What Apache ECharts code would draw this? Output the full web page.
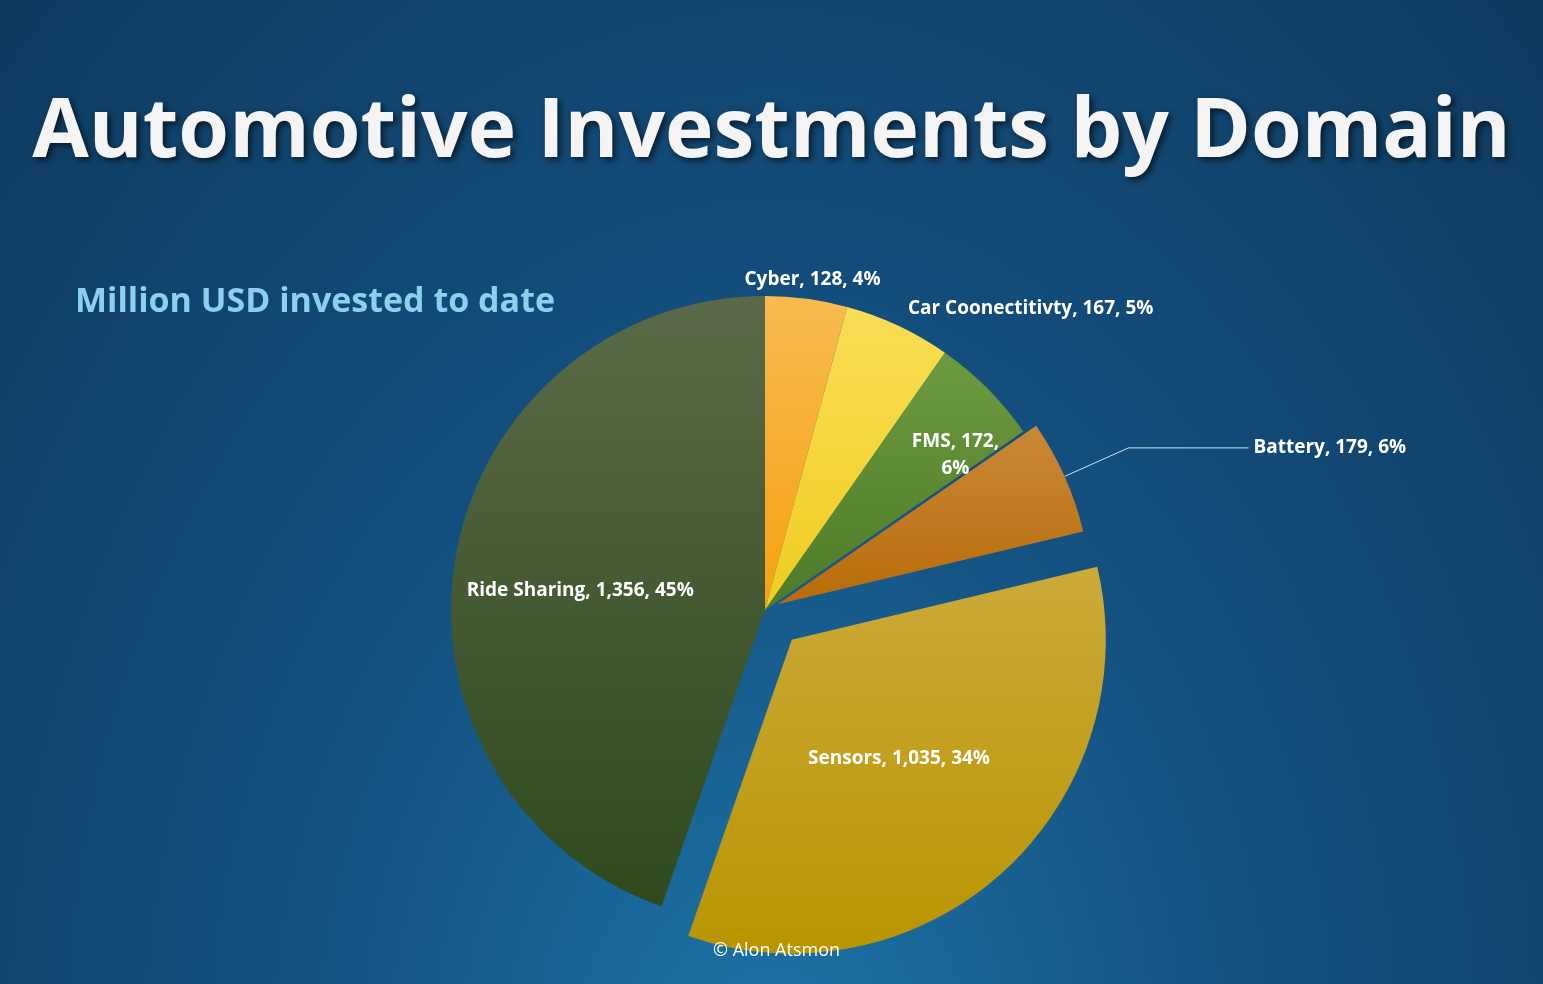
<!DOCTYPE html>
<html><head><meta charset="utf-8">
<script src="https://cdn.jsdelivr.net/npm/echarts@6/dist/echarts.min.js"></script>
<style>html,body{margin:0;padding:0;width:1543px;height:984px;overflow:hidden}
#c{width:1543px;height:984px;background:radial-gradient(ellipse at 50% 110%,#1d74a8 0%,#145080 45%,#0f3a5e 100%)}</style>
</head><body><div id="c"></div>
<script>
const categories=['Cyber','Car Coonectitivty','FMS','Battery','Sensors','Ride Sharing'];
const values=[128,167,172,179,1035,1356];
const percents=['4%','5%','6%','6%','34%','45%'];
const colors=[['#F9BA50','#F5A010'],['#F8DE55','#F0CC20'],['#6E9A40','#4F7A28'],['#C98838','#B86C08'],['#CBAA3A','#B99400'],['#5A6A48','#2F4A1E']];
const chart=echarts.init(document.getElementById('c'));
const fmt=v=>v.toLocaleString('en-US');
const grad=c=>({type:'linear',x:0,y:0,x2:0,y2:1,colorStops:[{offset:0,color:c[0]},{offset:1,color:c[1]}]});
const BAT=3;
const labelOffsets=[[-72,-11],[-6,-13],[77,-42],[0,0],[74,-7],[-27,7]];
function build(main){
  return categories.map((n,i)=>{
    const show = main ? i!==BAT : i===BAT;
    const d={name:n,value:values[i],itemStyle:{color:show?grad(colors[i]):'rgba(0,0,0,0)'}};
    const txt=n+', '+fmt(values[i])+', '+percents[i];
    if(!show){d.label={show:false};d.labelLine={show:false};return d;}
    if(i===0||i===1) d.label={position:'outside',formatter:txt,offset:labelOffsets[i]};
    else if(i===2) d.label={position:'inside',formatter:n+', '+fmt(values[i])+',\n'+percents[i],offset:labelOffsets[i]};
    else if(i===BAT){d.label={position:'outside',formatter:txt};d.labelLine={show:true,length:70,length2:120,lineStyle:{color:'#cfe3f0',width:1}};d.selected=true;}
    else {d.label={position:'inside',formatter:txt,offset:labelOffsets[i]}; if(i===4) d.selected=true;}
    return d;
  });
}
const base={type:'pie',center:[765,610],radius:314,startAngle:90,clockwise:true,selectedMode:'multiple',animation:false,
  label:{color:'#fff',fontSize:19,fontWeight:'bold',fontFamily:'Open Sans',lineHeight:27},
  labelLine:{show:false,length:8,length2:4},emphasis:{disabled:true}};
chart.setOption({
  title:[{text:'Automotive Investments by Domain',left:'center',top:88,textStyle:{color:'#F4F4F4',fontSize:82,fontWeight:'bold',fontFamily:'Open Sans',textShadowColor:'rgba(0,0,0,0.6)',textShadowBlur:6,textShadowOffsetX:3,textShadowOffsetY:3}},
    {text:'Million USD invested to date',left:70,top:280,textStyle:{color:'#8CD0EE',fontSize:34,fontWeight:'bold',fontFamily:'Open Sans'}},
    {text:'© Alon Atsmon',left:708,top:937,textStyle:{color:'#ffffff',fontSize:18,fontWeight:'normal',fontFamily:'Open Sans'}}],
  series:[Object.assign({},base,{selectedOffset:40,data:build(true)}),
          Object.assign({},base,{selectedOffset:14,data:build(false)})]
});
</script></body></html>
